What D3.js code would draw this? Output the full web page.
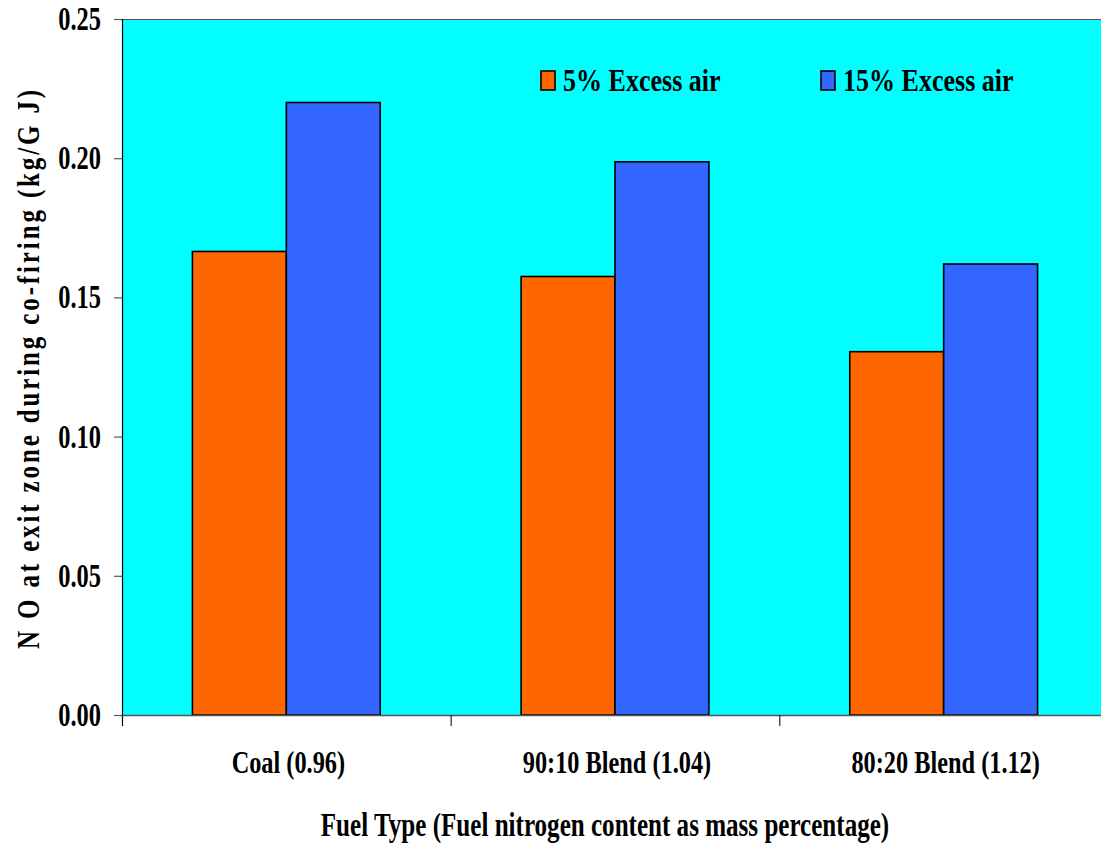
<!DOCTYPE html>
<html>
<head>
<meta charset="utf-8">
<script src="https://cdn.jsdelivr.net/npm/d3@7"></script>
<style>
  html, body { margin: 0; padding: 0; background: #ffffff; }
  svg { display: block; }
  text { font-family: "Liberation Serif", "Times New Roman", serif; font-weight: bold; fill: #000; }
</style>
</head>
<body>
<svg id="chart" width="1101" height="850"></svg>
<script>
// ---- data ----
const categories = ["Coal (0.96)", "90:10 Blend (1.04)", "80:20 Blend (1.12)"];
const seriesNames = ["5% Excess air", "15% Excess air"];
const excess5 = [0.1665, 0.1575, 0.1305];
const excess15 = [0.2200, 0.1987, 0.1620];
const yTicks = [0.00, 0.05, 0.10, 0.15, 0.20, 0.25];
const xTitle = "Fuel Type (Fuel nitrogen content as mass percentage)";
const yTitle = "N O at exit zone during co-firing (kg/G J)";
const colors = ["#FF6600", "#3366FF"];

const seriesValues = [excess5, excess15];
const rows = categories.map((c, i) => ({ cat: c, vals: seriesValues.map((s, j) => ({ key: seriesNames[j], v: s[i], j })) }));

const svg = d3.select("#chart");
const L = 122, T = 19, B = 715, R = 1108;

const x = d3.scaleBand().domain(categories).range([L, R]).paddingInner(0).paddingOuter(0);
const xs = d3.scaleBand().domain(seriesNames).range([0, x.bandwidth()]).paddingInner(0).paddingOuter(0.75);
const y = d3.scaleLinear().domain([0, 0.25]).range([B, T]);

// plot background
svg.append("rect").attr("x", L).attr("y", T).attr("width", R - L).attr("height", B - T).attr("fill", "#00FFFF");
// top border
svg.append("line").attr("x1", L).attr("x2", R).attr("y1", T + 0.5).attr("y2", T + 0.5).attr("stroke", "#555").attr("stroke-width", 1.2);

// bars
const g = svg.append("g");
g.selectAll("g.cat").data(rows).join("g").attr("class", "cat")
  .attr("transform", d => `translate(${x(d.cat)},0)`)
  .selectAll("rect").data(d => d.vals).join("rect")
  .attr("x", d => xs(d.key))
  .attr("width", xs.bandwidth())
  .attr("y", d => y(d.v))
  .attr("height", d => y(0) - y(d.v))
  .attr("fill", d => colors[d.j])
  .attr("stroke", "#000").attr("stroke-width", 1.6);

// y axis
const yAxis = svg.append("g").attr("transform", `translate(${L},0)`)
  .call(d3.axisLeft(y).tickValues(yTicks).tickFormat(d3.format(".2f")).tickSize(8).tickPadding(13));
yAxis.select(".domain").remove();
yAxis.selectAll(".tick line").attr("stroke", "#555").attr("stroke-width", 1.2);
const tsx = 0.74;
yAxis.selectAll(".tick text")
  .attr("font-size", 33).attr("font-family", "Liberation Serif").attr("font-weight", "bold")
  .attr("transform", `scale(${tsx},1)`).attr("x", -21 / tsx);
svg.append("line").attr("x1", L + 0.5).attr("x2", L + 0.5).attr("y1", T).attr("y2", B + 11).attr("stroke", "#000").attr("stroke-width", 1.2);

// x axis
const xAxis = svg.append("g").attr("transform", `translate(0,${B})`)
  .call(d3.axisBottom(x).tickValues([]).tickSizeOuter(0));
xAxis.select(".domain").attr("stroke", "#555").attr("stroke-width", 1.5);
// category boundary ticks
svg.append("g").selectAll("line").data(categories.slice(1)).join("line")
  .attr("x1", d => x(d) + 0.5).attr("x2", d => x(d) + 0.5)
  .attr("y1", B).attr("y2", B + 11).attr("stroke", "#000").attr("stroke-width", 1);

// category labels
const csx = 0.76;
svg.append("g").selectAll("text").data(categories).join("text")
  .attr("transform", d => `translate(${x(d) + x.bandwidth() / 2 + 2},773) scale(${csx},1)`)
  .attr("text-anchor", "middle").attr("font-size", 32).text(d => d);

// axis titles
svg.append("text").attr("transform", `translate(605,836) scale(0.76,1)`)
  .attr("text-anchor", "middle").attr("font-size", 33).text(xTitle);
svg.append("text").attr("transform", `translate(39,368) rotate(-90) scale(0.78,1)`)
  .attr("text-anchor", "middle").attr("font-size", 32).attr("letter-spacing", 3.7).text(yTitle);

// legend
const legendX = [541, 821];
const lg = svg.append("g").selectAll("g").data(seriesNames).join("g")
  .attr("transform", (d, i) => `translate(${legendX[i]},71)`);
lg.append("rect").attr("x", 0).attr("y", 0).attr("width", 14).attr("height", 19)
  .attr("fill", (d, i) => colors[i]).attr("stroke", "#000").attr("stroke-width", 1.6);
lg.append("text").attr("transform", "translate(22,20) scale(0.84,1)").attr("font-size", 31).text(d => d);
</script>
</body>
</html>
